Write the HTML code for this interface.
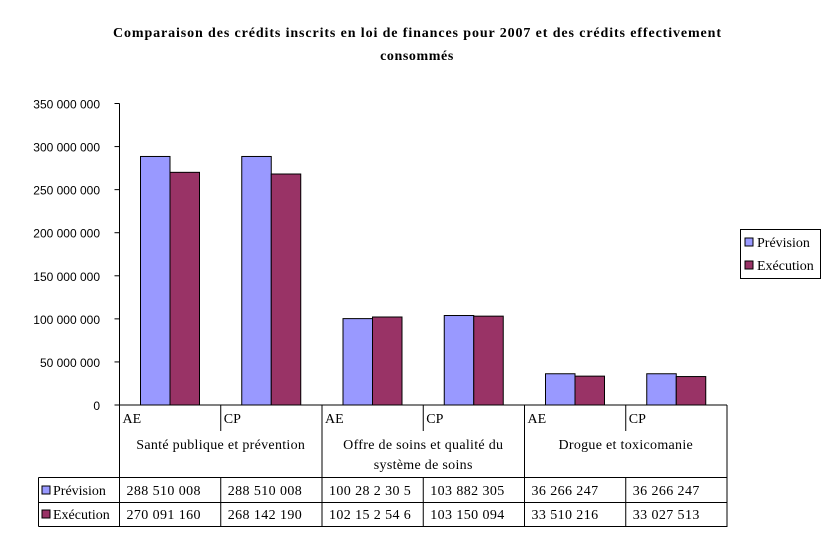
<!DOCTYPE html>
<html><head><meta charset="utf-8"><style>
html,body{margin:0;padding:0;background:#fff;}
svg{display:block;font-family:"Liberation Serif",serif;}
</style></head><body>
<svg id="chart" width="833" height="547" xmlns="http://www.w3.org/2000/svg">
<text x="113" y="37" textLength="608" lengthAdjust="spacing" font-size="14" font-weight="bold">Comparaison des crédits inscrits en loi de finances pour 2007 et des crédits effectivement</text>
<text x="417" y="60" text-anchor="middle" font-size="14" font-weight="bold" letter-spacing="0.6">consommés</text>
<g id="g"></g>
</svg>
<script>
const categories=["AE","CP","AE","CP","AE","CP"];
const groups=["Santé publique et prévention","Offre de soins et qualité du|système de soins","Drogue et toxicomanie"];
const prevision=[288510008,288510008,100282305,103882305,36266247,36266247];
const execution=[270091160,268142190,102152546,103150094,33510216,33027513];
const previsionLabels=["288 510 008","288 510 008","100 28 2 30 5","103 882 305","36 266 247","36 266 247"];
const executionLabels=["270 091 160","268 142 190","102 15 2 54 6","103 150 094","33 510 216","33 027 513"];
const yTicks=[0,50000000,100000000,150000000,200000000,250000000,300000000,350000000];
const yTickLabels=["0","50 000 000","100 000 000","150 000 000","200 000 000","250 000 000","300 000 000","350 000 000"];

const NS="http://www.w3.org/2000/svg";
const g=document.getElementById('g');
const X0=119.5,X1=727,Y0=405,Y1=103.5,YMAX=350000000;
const cw=(X1-X0)/categories.length;
const y=v=>Y0-(v/YMAX)*(Y0-Y1);
const xc=i=>X0+i*cw;
function mk(t,a,txt){const e=document.createElementNS(NS,t);for(const k in a)e.setAttribute(k,a[k]);if(txt!==undefined)e.textContent=txt;g.appendChild(e);return e;}
let ax=mk('line',{x1:X0,y1:Y1,x2:X0,y2:Y0,stroke:'#000'});


yTicks.forEach((v,i)=>{
  const l=mk('line',{x1:X0-5,y1:y(v),x2:X0,y2:y(v),stroke:'#000'});
  
  
  const t=mk('text',{x:100,y:y(v)+5,'text-anchor':'end','font-size':12,'font-family':'Liberation Sans, sans-serif'},yTickLabels[i]);
  
  
});
mk('line',{x1:X0-5,y1:Y0,x2:X1,y2:Y0,stroke:'#000'});
const bw=29.5;
categories.forEach((c,i)=>{
  const bx=xc(i)+21;
  const r1=mk('rect',{x:bx,y:y(prevision[i]),width:bw,height:Y0-y(prevision[i]),fill:'#9999FF',stroke:'#000','stroke-width':1});
  
  
  const r2=mk('rect',{x:bx+bw,y:y(execution[i]),width:bw,height:Y0-y(execution[i]),fill:'#993366',stroke:'#000','stroke-width':1});
  
  
  const t=mk('text',{x:xc(i)+3,y:423,'font-size':14},c);
  
  
  if(i%2==1) mk('line',{x1:xc(i),y1:Y0,x2:xc(i),y2:431,stroke:'#000'});
});
for(let j=0;j<=groups.length;j++){
  mk('line',{x1:xc(j*2),y1:Y0,x2:xc(j*2),y2:527,stroke:'#000'});
}
groups.forEach((gr,j)=>{
  gr.split('|').forEach((line,k)=>{
    const t=mk('text',{x:xc(j*2)+cw,y:449+k*20,'text-anchor':'middle','font-size':14,'letter-spacing':0.3},line);
    
    
  });
});
mk('line',{x1:38.5,y1:477.5,x2:X1,y2:477.5,stroke:'#000'});
mk('line',{x1:38.5,y1:502.5,x2:X1,y2:502.5,stroke:'#000'});
mk('line',{x1:38.5,y1:526.5,x2:X1,y2:526.5,stroke:'#000'});
mk('line',{x1:38.5,y1:477.5,x2:38.5,y2:526.5,stroke:'#000'});
categories.forEach((c,i)=>{ if(i%2==1) mk('line',{x1:xc(i),y1:477.5,x2:xc(i),y2:526.5,stroke:'#000'}); });
const rows=[["Prévision","#9999FF",previsionLabels],["Exécution","#993366",executionLabels]];
rows.forEach((r,k)=>{
  const yy=495+k*24;
  mk('rect',{x:42,y:yy-9,width:8,height:8,fill:r[1],stroke:'#000'});
  const t=mk('text',{x:53,y:yy,'font-size':14},r[0]);
  
  
  r[2].forEach((s,i)=>{
    const v=mk('text',{x:xc(i)+7,y:yy,'font-size':14,'letter-spacing':0.4},s);
    
    
  });
});
const lg=mk('rect',{x:740.5,y:229.5,width:80,height:49,fill:'#fff',stroke:'#000'});


rows.forEach((r,k)=>{
  const yy=247+k*23;
  mk('rect',{x:745,y:yy-9,width:8,height:8,fill:r[1],stroke:'#000'});
  const t=mk('text',{x:757,y:yy,'font-size':14},r[0]);
  
  
});
</script>
</body></html>
